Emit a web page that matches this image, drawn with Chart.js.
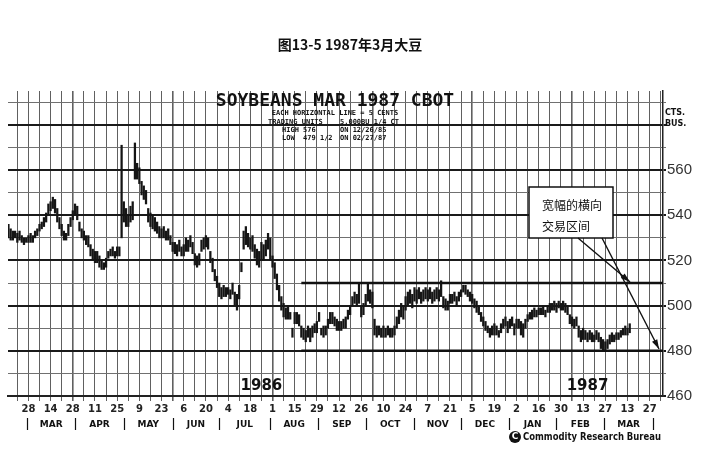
<!DOCTYPE html>
<html>
<head>
<meta charset="utf-8">
<script src="https://cdn.jsdelivr.net/npm/chart.js@4.4.1/dist/chart.umd.min.js"></script>
<style>
  html, body { margin: 0; padding: 0; background: #fff; }
  canvas { display: block; }
</style>
</head>
<body>
<canvas id="chart" width="705" height="473"></canvas>
<script>
// ===== DATA =====
// x axis = trading day index, idx 10 = 28 Feb 1986, every 10 = two weeks
const dayLabels = ['28','14','28','11','25','9','23','6','20','4','18','1','15','29','12','26',
  '10','24','7','21','5','19','2','16','30','13','27','13','27'];
const monthNames = ['MAR','APR','MAY','JUN','JUL','AUG','SEP','OCT','NOV','DEC','JAN','FEB','MAR'];
const monthBreaks = [9.5, 31, 53, 75, 96, 119, 140.5, 162, 184, 205, 226.5, 248, 269.5, 291.5];
const priceLabels = [460, 480, 500, 520, 540, 560];
const firstBar = 1;

const highs = [
  536,534,533,533,532,533,531,530,530,531,
  532,531,533,534,536,537,539,541,545,546,
  548,547,543,539,536,533,532,536,539,542,
  545,544,537,534,533,531,531,527,525,524,
  524,522,520,519,521,524,525,526,524,526,
  526,571,546,543,540,544,546,572,563,561,
  555,553,551,543,541,540,539,537,535,534,
  535,533,534,531,528,528,527,529,526,527,
  530,529,531,528,523,522,523,529,530,531,
  530,524,521,516,513,510,508,509,508,508,
  507,510,506,505,509,519,533,535,532,530,
  531,527,525,524,528,527,529,532,530,522,
  519,514,509,504,501,499,500,497,490,497,
  497,496,491,490,489,491,490,491,492,493,
  497,490,491,491,494,497,497,495,494,493,
  493,494,495,498,500,504,506,505,510,500,
  501,505,510,507,506,494,491,491,490,491,
  490,491,490,490,491,495,498,501,500,504,
  506,507,505,508,507,508,506,507,508,507,
  508,506,507,508,507,511,504,503,502,505,
  505,506,504,506,507,509,509,507,506,505,
  503,502,500,497,495,493,491,490,491,492,
  491,489,492,494,495,493,494,495,492,494,
  494,493,492,494,496,497,498,499,498,499,
  499,500,498,500,501,501,502,501,502,501,
  502,501,500,496,495,494,495,491,489,490,
  489,488,489,488,487,489,488,486,485,484,
  485,487,488,487,488,488,489,490,491,490,492];

const lows = [
  530,529,529,530,528,529,528,527,528,528,
  528,528,530,531,533,534,535,537,540,542,
  543,541,537,534,531,529,529,531,535,538,
  540,538,533,530,529,527,526,522,520,519,
  519,517,516,516,517,521,522,522,521,522,
  522,530,537,535,535,537,538,556,556,554,
  549,547,545,537,535,534,533,532,530,530,
  530,529,529,527,524,523,522,524,522,522,
  524,524,526,523,518,517,518,524,525,526,
  525,519,515,511,508,504,503,504,504,505,
  503,505,500,498,503,515,525,527,526,525,
  524,521,518,517,520,520,522,525,520,517,
  512,507,502,498,495,494,494,494,486,492,
  492,491,486,485,484,486,484,486,488,488,
  493,487,486,487,490,492,492,491,489,489,
  489,490,490,494,496,500,501,500,501,495,
  496,500,502,501,499,487,486,487,486,486,
  486,487,486,486,487,490,492,495,494,498,
  500,501,499,502,501,503,501,502,503,502,
  503,501,502,503,502,504,499,498,498,501,
  501,502,500,502,504,506,505,504,502,501,
  499,497,496,493,491,489,488,486,487,487,
  487,486,488,490,491,488,490,491,487,490,
  490,487,486,490,493,494,494,495,495,496,
  496,496,495,497,497,498,498,497,499,498,
  498,497,496,492,491,490,491,486,484,485,
  485,484,485,484,484,485,484,481,480,480,
  481,483,484,484,485,485,486,487,487,487,488];

const rangeTop = 510;
const rangeBottom = 480;
const rangeFrom = 133;
const rangeTo = 296;

// ===== OVERLAY TEXT / ANNOTATION =====
function arrow(ctx, x0, y0, x1, y1) {
  ctx.beginPath();
  ctx.moveTo(x0, y0);
  ctx.lineTo(x1, y1);
  ctx.stroke();
  const ang = Math.atan2(y1 - y0, x1 - x0);
  ctx.beginPath();
  ctx.moveTo(x1, y1);
  ctx.lineTo(x1 - 10 * Math.cos(ang - 0.3), y1 - 10 * Math.sin(ang - 0.3));
  ctx.lineTo(x1 - 10 * Math.cos(ang + 0.3), y1 - 10 * Math.sin(ang + 0.3));
  ctx.closePath();
  ctx.fill();
}

const overlay = {
  id: 'overlay',
  afterDraw(chart) {
    const { ctx, scales: { x, y } } = chart;
    ctx.save();
    ctx.fillStyle = '#111';
    ctx.strokeStyle = '#111';
    ctx.textBaseline = 'middle';

    // page caption
    ctx.textAlign = 'center';
    ctx.font = 'bold 14px "Noto Sans CJK SC"';
    ctx.fillText('图13-5 1987年3月大豆', 350, 45);

    // chart heading
    ctx.font = 'bold 18px "DejaVu Sans Mono"';
    ctx.fillText('SOYBEANS MAR 1987 CBOT', 335, 101, 252);
    ctx.font = 'bold 7px "DejaVu Sans Mono"';
    ctx.fillText('EACH HORIZONTAL LINE = 5 CENTS', 335, 113, 156);
    ctx.textAlign = 'left';
    ctx.fillText('TRADING UNITS', 268, 122);
    ctx.fillText('5,000BU 1/4 CT', 340, 122);
    ctx.fillText('HIGH 576', 282, 130);
    ctx.fillText('ON 12/26/85', 340, 130);
    ctx.fillText('LOW  479 1/2', 282, 138);
    ctx.fillText('ON 02/27/87', 340, 138);

    // units
    ctx.font = 'bold 8px "DejaVu Sans"';
    ctx.fillText('CTS.', 665, 113);
    ctx.fillText('BUS.', 665, 124);

    // years
    ctx.textAlign = 'center';
    ctx.font = 'bold 15px "DejaVu Sans"';
    ctx.fillText('1986', x.getPixelForValue(115), y.getPixelForValue(464.5));
    ctx.fillText('1987', x.getPixelForValue(262), y.getPixelForValue(464.5));

    // month row
    ctx.font = 'bold 9px "DejaVu Sans"';
    ctx.lineWidth = 1.2;
    monthBreaks.forEach(v => {
      const px = Math.round(x.getPixelForValue(v)) + 0.5;
      ctx.beginPath();
      ctx.moveTo(px, 418);
      ctx.lineTo(px, 430);
      ctx.stroke();
    });
    monthNames.forEach((m, i) => {
      const mid = (monthBreaks[i] + monthBreaks[i + 1]) / 2;
      ctx.fillText(m, x.getPixelForValue(mid), 425);
    });

    // note box
    ctx.fillStyle = '#fff';
    ctx.fillRect(529, 187, 84, 51);
    ctx.lineWidth = 1.5;
    ctx.strokeRect(529, 187, 84, 51);
    ctx.fillStyle = '#111';
    ctx.textAlign = 'left';
    ctx.font = '12px "Noto Sans CJK SC"';
    ctx.fillText('宽幅的横向', 542, 205);
    ctx.fillText('交易区间', 542, 226);
    ctx.lineWidth = 1.4;
    arrow(ctx, 578, 238, 630, 282);
    arrow(ctx, 602, 238, 659, 349);

    // publisher
    ctx.beginPath();
    ctx.arc(515, 437, 6, 0, Math.PI * 2);
    ctx.fill();
    ctx.fillStyle = '#fff';
    ctx.font = 'bold 9px "DejaVu Sans"';
    ctx.textAlign = 'center';
    ctx.fillText('C', 515, 437);
    ctx.fillStyle = '#111';
    ctx.textAlign = 'left';
    ctx.font = 'bold 10px "DejaVu Sans"';
    ctx.fillText('Commodity Research Bureau', 523, 437, 138);
    ctx.restore();
  }
};

// ===== CHART =====
const bars = highs.map((h, i) => ({ x: firstBar + i, y: [lows[i], h] }));
const weekTicks = [];
for (let v = 5; v <= 295; v += 5) weekTicks.push(v);

new Chart(document.getElementById('chart'), {
  type: 'bar',
  data: {
    datasets: [
      {
        type: 'line',
        data: [{ x: rangeFrom, y: rangeTop }, { x: rangeTo, y: rangeTop }],
        borderColor: '#111',
        borderWidth: 2.5,
        pointRadius: 0
      },
      {
        type: 'line',
        data: [{ x: rangeFrom, y: rangeBottom }, { x: rangeTo, y: rangeBottom }],
        borderColor: '#111',
        borderWidth: 2.5,
        pointRadius: 0
      },
      {
        data: bars,
        backgroundColor: '#151515',
        barThickness: 1.6,
        grouped: false
      }
    ]
  },
  options: {
    responsive: false,
    animation: false,
    layout: { padding: { left: 8, top: 91, right: 0, bottom: 47 } },
    plugins: { legend: { display: false }, tooltip: { enabled: false } },
    scales: {
      x: {
        type: 'linear',
        min: 0.8,
        max: 296,
        offset: false,
        afterBuildTicks: s => { s.ticks = weekTicks.map(v => ({ value: v })); },
        afterFit: s => { s.height = 30; },
        grid: {
          offset: false,
          color: '#606060',
          lineWidth: c => (c.tick && c.tick.value % 45 === 30 ? 1.6 : 1),
          tickLength: 5
        },
        border: { display: true, color: '#222', width: 2 },
        ticks: {
          autoSkip: false,
          maxRotation: 0,
          padding: 2,
          color: '#222',
          font: { family: 'DejaVu Sans', size: 10, weight: 'bold' },
          callback: v => (v % 10 === 0 ? dayLabels[v / 10 - 1] : '')
        }
      },
      y: {
        position: 'right',
        min: 460,
        max: 595,
        afterFit: s => { s.width = 42; },
        grid: {
          color: c => (c.tick && c.tick.value % 20 === 0 ? '#1a1a1a' : '#707070'),
          lineWidth: c => (c.tick && c.tick.value % 20 === 0 ? 2 : 1),
          tickLength: 3
        },
        border: { display: true, color: '#222', width: 1.5 },
        ticks: {
          stepSize: 5,
          padding: 1,
          color: '#333',
          font: { family: 'Liberation Sans', size: 15 },
          callback: v => (priceLabels.includes(v) ? v : '')
        }
      }
    }
  },
  plugins: [overlay]
});
</script>
</body>
</html>
